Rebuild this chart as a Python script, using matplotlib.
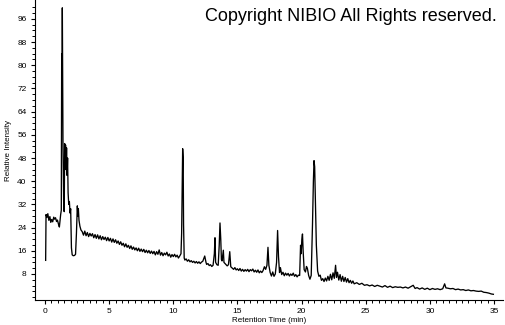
import matplotlib
matplotlib.use("Agg")
import matplotlib.pyplot as plt
import numpy as np

plt.rcParams['font.family'] = ['Liberation Sans', 'DejaVu Sans']

# Retention time (min) and relative intensity
rt_a = [0.05, 0.08, 0.15, 0.22, 0.30, 0.38, 0.45, 0.52, 0.60, 0.68, 0.75, 0.82, 0.90, 0.97, 1.05, 1.12, 1.17, 1.22,
        1.27, 1.30, 1.32, 1.35, 1.40, 1.43, 1.46, 1.50, 1.53, 1.57, 1.60, 1.64, 1.68, 1.72, 1.76, 1.80, 1.85, 1.90,
        1.95, 2.00, 2.06, 2.12, 2.20, 2.30, 2.38, 2.45, 2.52, 2.56, 2.60, 2.65, 2.72, 2.80]
int_a = [12.7, 28.5, 27.5, 28.8, 26.5, 27.8, 25.8, 26.8, 26.0, 27.6, 26.9, 27.4, 26.1, 26.6, 25.2, 24.2, 26.5, 28.5,
         30.0, 84.0, 70.0, 99.8, 54.0, 40.0, 30.0, 29.5, 53.0, 46.0, 52.5, 44.0, 51.5, 42.0, 48.0, 36.0, 32.0, 33.0,
         29.0, 30.5, 17.0, 14.6, 14.3, 14.4, 14.8, 22.0, 31.5, 28.0, 30.5, 26.5, 24.5, 23.2]

rt_b = [2.9, 3.0, 3.1, 3.2, 3.3, 3.4, 3.5, 3.6, 3.7, 3.8, 3.9, 4.0, 4.1, 4.2, 4.3, 4.4, 4.5, 4.6, 4.7, 4.8, 4.9,
        5.0, 5.1, 5.2, 5.3, 5.4, 5.5, 5.6, 5.7, 5.8, 5.9, 6.0, 6.1, 6.2, 6.3, 6.4, 6.5, 6.6, 6.7, 6.8, 6.9,
        7.0, 7.1, 7.2, 7.3, 7.4, 7.5, 7.6, 7.7, 7.8, 7.9, 8.0, 8.1, 8.2, 8.3, 8.4, 8.5, 8.6, 8.7, 8.8, 8.9,
        9.0, 9.1, 9.2, 9.3, 9.4, 9.5, 9.6, 9.7, 9.8, 9.9, 10.0, 10.1, 10.2, 10.3, 10.4, 10.5]
int_b = [22.6, 21.4, 22.8, 21.2, 22.3, 20.9, 22.0, 21.1, 21.9, 20.5, 21.6, 20.3, 21.5, 20.1, 21.2, 19.8, 20.9, 19.9, 20.7, 19.5, 20.6,
         19.4, 20.3, 19.0, 20.1, 18.9, 19.8, 18.6, 19.4, 18.2, 19.1, 17.9, 18.6, 17.4, 18.4, 17.2, 17.9, 16.8, 17.7, 16.5, 17.3,
         16.3, 17.0, 16.0, 16.9, 15.8, 16.6, 15.7, 16.5, 15.4, 16.2, 15.3, 16.1, 15.1, 15.9, 15.0, 15.8, 14.6, 15.7, 14.8, 16.3,
         14.5, 15.4, 14.3, 15.2, 14.6, 15.5, 14.2, 14.9, 13.8, 14.7, 14.0, 14.8, 13.9, 14.5, 13.5, 14.2]

rt_c = [10.6, 10.65, 10.7, 10.73, 10.77, 10.8, 10.85, 10.9, 11.0, 11.1, 11.2, 11.3, 11.4, 11.5, 11.6, 11.7, 11.8, 11.9,
        12.0, 12.1, 12.2, 12.3, 12.45, 12.55, 12.6, 12.7, 12.8, 12.9, 13.0, 13.1, 13.2, 13.25, 13.3, 13.4, 13.5,
        13.58, 13.64, 13.7, 13.75, 13.8, 13.9, 13.95, 14.05, 14.2, 14.3, 14.4, 14.48, 14.6, 14.7, 14.8, 14.9,
        15.0, 15.1, 15.2, 15.3, 15.4, 15.5, 15.6, 15.7, 15.8, 15.9, 16.0, 16.1, 16.2, 16.3, 16.4, 16.5, 16.6,
        16.7, 16.8, 16.9, 17.0, 17.1, 17.2, 17.3, 17.38, 17.45, 17.55, 17.65, 17.75, 17.85, 17.95]
int_c = [15.0, 22.0, 40.0, 51.2, 48.0, 25.0, 13.5, 12.8, 13.2, 12.4, 12.9, 12.2, 12.6, 12.0, 12.4, 11.8, 12.3, 11.7,
         12.2, 11.6, 12.1, 12.4, 14.2, 12.0, 11.3, 11.6, 10.9, 11.2, 10.6, 11.0, 15.0, 20.5, 12.0, 11.2, 11.0,
         18.0, 25.6, 20.0, 13.0, 12.5, 16.2, 12.0, 11.5, 10.8, 11.2, 15.7, 10.5, 10.0, 9.6, 10.2, 9.4,
         9.8, 9.2, 9.9, 9.0, 9.6, 8.9, 9.5, 9.0, 9.6, 8.8, 9.5, 9.1, 9.7, 8.7, 9.3, 8.6, 9.4,
         8.4, 9.0, 8.5, 9.2, 10.5, 9.6, 11.0, 17.2, 11.0, 8.5, 7.3, 8.7, 7.2, 8.0]

rt_d = [18.05, 18.13, 18.2, 18.28, 18.35, 18.45, 18.55, 18.65, 18.75, 18.85, 18.95, 19.05, 19.15, 19.25, 19.35,
        19.45, 19.55, 19.65, 19.75, 19.85, 19.92, 19.97, 20.02, 20.07, 20.12, 20.2, 20.3, 20.38, 20.45, 20.55,
        20.65, 20.75, 20.85, 20.92, 20.97, 21.02, 21.08, 21.15, 21.25, 21.35, 21.45, 21.55, 21.65, 21.75, 21.85,
        21.95, 22.05, 22.15, 22.25, 22.35, 22.45, 22.55, 22.65, 22.72, 22.8, 22.9, 23.0, 23.1, 23.2, 23.3, 23.4,
        23.5, 23.6, 23.7, 23.8, 23.9, 24.0, 24.1]
int_d = [12.0, 23.0, 14.0, 8.5, 10.2, 7.8, 8.6, 7.4, 8.3, 7.6, 8.2, 7.3, 8.0, 7.5, 8.3,
         7.2, 7.8, 7.0, 7.6, 7.5, 17.9, 15.0, 20.0, 21.8, 16.0, 9.5, 8.7, 10.6, 10.0, 7.5,
         6.2, 7.5, 25.0, 40.0, 47.1, 45.0, 32.0, 18.0, 9.0, 7.2, 7.6, 5.8, 6.4, 5.4, 6.6,
         5.6, 7.2, 5.8, 7.9, 6.0, 8.4, 6.5, 11.0, 6.8, 8.6, 5.9, 7.8, 5.5, 7.2, 5.4, 6.8,
         5.2, 6.4, 5.0, 5.8, 4.8, 5.6, 4.6]

rt_e = [24.3, 24.5, 24.7, 24.9, 25.1, 25.3, 25.5, 25.7, 25.9, 26.1, 26.3, 26.5, 26.7, 26.9, 27.1, 27.3, 27.5,
        27.7, 27.9, 28.1, 28.3, 28.5, 28.7, 28.85, 29.0, 29.2, 29.4, 29.6, 29.8, 30.0, 30.2, 30.4, 30.6, 30.8,
        31.0, 31.15, 31.25, 31.4, 31.6, 31.8, 32.0, 32.2, 32.4, 32.6, 32.8, 33.0, 33.2, 33.4, 33.6, 33.8, 34.0,
        34.2, 34.4, 34.6, 34.8, 34.95]
int_e = [5.0, 4.4, 4.8, 4.1, 4.3, 3.9, 4.2, 3.7, 4.1, 3.8, 3.5, 4.0, 3.4, 3.8, 3.3, 3.6, 3.4,
         3.5, 3.2, 3.5, 3.1, 3.6, 4.1, 3.0, 3.3, 2.8, 3.2, 2.7, 3.1, 2.6, 3.0, 2.7, 2.9, 2.6,
         2.9, 4.6, 3.2, 3.1, 2.9, 3.0, 2.6, 2.8, 2.5, 2.6, 2.3, 2.5, 2.2, 2.3, 2.1, 2.0, 2.1,
         1.7, 1.6, 1.4, 1.1, 1.0]

rt = rt_a + rt_b + rt_c + rt_d + rt_e
intensity = int_a + int_b + int_c + int_d + int_e

x_major = [0, 5, 10, 15, 20, 25, 30, 35]
y_major = [8, 16, 24, 32, 40, 48, 56, 64, 72, 80, 88, 96]

fig = plt.figure(figsize=(5.05, 3.25), dpi=100)
ax = fig.add_axes([35 / 505, 1 - 300 / 325, 468 / 505, 300 / 325])
ax.plot(rt, intensity, color='black', lw=0.95)

ax.set_xlim(-0.78, 35.7)
ax.set_ylim(-0.97, 102.5)
ax.set_xticks(x_major)
ax.set_xticks(np.arange(0, 35.5, 0.5), minor=True)
ax.set_yticks(y_major)
ax.set_yticks(np.arange(0, 101, 2), minor=True)
ax.tick_params(axis='both', which='major', length=3, width=0.8, labelsize=6, pad=3)
ax.tick_params(axis='both', which='minor', length=2, width=0.7)
for s in ['top', 'right']:
    ax.spines[s].set_visible(False)
for s in ['left', 'bottom']:
    ax.spines[s].set_linewidth(0.8)

ax.set_xlabel('Retention Time (min)', fontsize=5.8, labelpad=1)
ax.set_ylabel('Relative Intensity', fontsize=5.8, labelpad=4)

fig.text(497 / 505, 1 - 21 / 325, 'Copyright NIBIO All Rights reserved.', ha='right', va='baseline',
         fontsize=13, color='black')

fig.savefig('out.png', dpi=100)
